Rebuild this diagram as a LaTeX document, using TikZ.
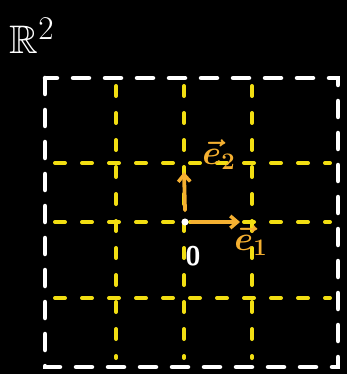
\documentclass[tikz,border=0pt]{standalone}
\usepackage{amsmath}
\usepackage{amssymb}
\usepackage{bm}
\usepackage{tikz}
\usetikzlibrary{arrows.meta, positioning, calc}
\usepackage{xcolor}

\definecolor{gridyellow}{HTML}{F2DE12}
\definecolor{vecorange}{HTML}{F5B031}

\tikzset{
    frame/.style={white, line width=4.5pt, line cap=round, dash pattern=on 16pt off 16pt},
    gridline/.style={gridyellow, line width=4pt, line cap=round, dash pattern=on 10pt off 17pt},
    basisvec/.style={vecorange, line width=3.8pt, line cap=round, -{Straight Barb[length=7pt,width=12pt,line width=3.5pt]}},
    veclabel/.style={vecorange, font=\huge, scale=1.65}
}

\begin{document}
\begin{tikzpicture}[x=1pt, y=-1pt] % 1 đơn vị = 1 pixel của ảnh gốc
        % Nền đen, cố định khung hình
        \fill[black] (0,0) rectangle (347,374);
        \useasboundingbox (0,0) rectangle (347,374);

        % Khung vuông nét đứt bên ngoài
        \draw[frame] (45,78) rectangle (338,367);

        % Lưới vàng: đường dọc và đường ngang
        \foreach \xx in {116, 184, 252}
            \draw[gridline] (\xx,86) -- (\xx,358);
        \foreach \yy in {163, 222, 298}
            \draw[gridline] (55,\yy) -- (330,\yy);

        % Gốc tọa độ và các vector cơ sở
        \node[circle, fill=white, inner sep=2.5pt] (O) at (185,222) {};
        \coordinate (e1tip) at (240,222);
        \coordinate (e2tip) at (184,172);
        \draw[basisvec] ($(O.east)+(3,0)$) -- (e1tip);
        \draw[basisvec] ($(O.north)+(0,-8)$) -- (e2tip);

        % Nhãn
        \node[veclabel] (e1) at (251,241) {$\bm{\vec{e}_1}$};
        \node[veclabel] (e2) at (219,155) {$\bm{\vec{e}_2}$};
        \node[white, font=\huge\sffamily\bfseries, scale=1.3] (zero) at (193,256) {0};
        \node[white, font=\Huge, scale=1.6] (R2) at (32,36) {$\mathbb{R}^2$};
    \end{tikzpicture}
\end{document}
